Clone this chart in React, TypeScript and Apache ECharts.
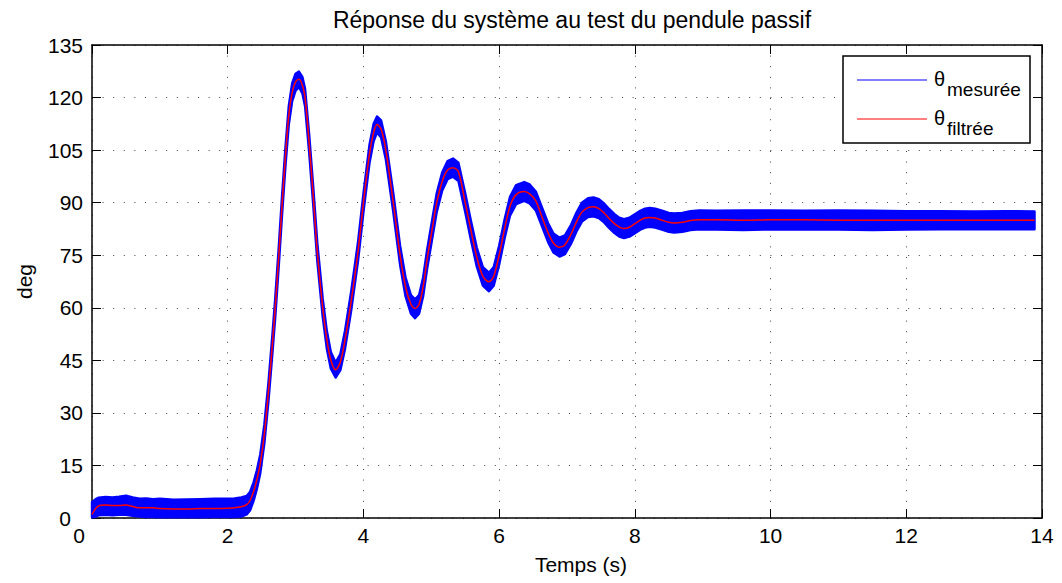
import React, { useEffect, useRef } from "react";
import * as echarts from "echarts";

// Temps (s)
const temps = [
  0, 0.05, 0.1, 0.2, 0.3, 0.4, 0.5, 0.6, 0.7, 0.8,
  0.9, 1.0, 1.2, 1.4, 1.6, 1.8, 2.0, 2.1, 2.2, 2.28,
  2.33, 2.38, 2.43, 2.48, 2.54, 2.6, 2.66, 2.7, 2.75, 2.8,
  2.85, 2.9, 2.95, 3.0, 3.05, 3.1, 3.14, 3.2, 3.26, 3.32,
  3.4, 3.46, 3.52, 3.59, 3.66, 3.73, 3.82, 3.92, 4.0, 4.09,
  4.15, 4.2, 4.26, 4.33, 4.44, 4.54, 4.62, 4.7, 4.76, 4.82,
  4.88, 4.94, 5.01, 5.08, 5.16, 5.24, 5.32, 5.4, 5.5, 5.58,
  5.67, 5.76, 5.85, 5.92, 6.0, 6.08, 6.16, 6.25, 6.37, 6.45,
  6.54, 6.63, 6.72, 6.8, 6.89, 6.97, 7.06, 7.14, 7.22, 7.31,
  7.39, 7.47, 7.55, 7.62, 7.7, 7.77, 7.84, 7.92, 8.0, 8.08,
  8.15, 8.22, 8.3, 8.4, 8.5, 8.58, 8.7, 8.82, 8.95, 9.2,
  9.6, 10.0, 10.5, 11.0, 11.5, 12.0, 12.5, 13.0, 13.5, 13.89,
];

// θ filtrée (deg)
const filtree = [
  1.0, 2.6, 3.5, 3.7, 3.6, 3.6, 3.7, 3.3, 2.9, 2.9,
  2.9, 2.7, 2.6, 2.6, 2.7, 2.7, 2.8, 2.9, 3.2, 3.8,
  5.0, 7.5, 11, 15.5, 24, 36, 50, 60, 74, 89,
  103, 115, 121.5, 124.5, 125.2, 123.5, 120, 107, 92, 76,
  60, 51, 45, 42.3, 44.5, 51, 62, 76, 90, 104,
  110, 112.3, 111, 105, 90, 75, 66, 61, 59.8, 61,
  66, 74, 82, 90, 96, 99.3, 100, 98.8, 90, 82.5,
  74.5, 69, 67.4, 69, 75, 82.5, 89, 92.3, 93.2, 92.5,
  90.5, 86, 81.5, 78.5, 77.3, 78, 81, 84.5, 87.3, 88.6,
  88.8, 88.3, 87, 85.5, 84, 83, 82.6, 83, 84, 85,
  85.6, 85.8, 85.6, 85, 84.4, 84.2, 84.4, 84.9, 85.1, 85.1,
  85.0, 85.1, 85.1, 85.0, 85.0, 85.0, 85.0, 85.0, 85.0, 85.0,
];

// θ mesurée : enveloppe haute (deg)
const mesureeHaut = [
  4.5, 5.3, 5.8, 6.0, 5.9, 6.1, 6.4, 5.9, 5.5, 5.6,
  5.4, 5.5, 5.2, 5.3, 5.4, 5.5, 5.5, 5.6, 5.9, 6.3,
  7.5, 10.1, 13.6, 18.2, 26.7, 38.6, 52.6, 62.7, 76.6, 91.7,
  105.6, 117.6, 124.1, 126.8, 127.4, 125.9, 122.5, 109.6, 94.6, 78.6,
  62.6, 53.5, 47.4, 44.4, 46.8, 53.6, 64.7, 78.7, 92.6, 106.6,
  112.5, 114.6, 113.5, 107.6, 92.7, 77.7, 68.7, 63.6, 62.4, 63.6,
  68.7, 76.7, 84.7, 92.7, 98.6, 101.9, 102.6, 101.4, 92.7, 85.2,
  77.2, 71.6, 70.0, 71.6, 77.7, 85.2, 91.7, 95.0, 95.9, 95.2,
  93.2, 88.7, 84.2, 81.2, 80.0, 80.7, 83.7, 87.2, 90.0, 91.3,
  91.5, 91.0, 89.7, 88.2, 86.7, 85.7, 85.3, 85.7, 86.7, 87.7,
  88.3, 88.5, 88.3, 87.7, 87.1, 86.9, 87.1, 87.6, 87.8, 87.7,
  87.8, 87.8, 87.7, 87.8, 87.7, 87.6, 87.6, 87.5, 87.6, 87.5,
];

// θ mesurée : enveloppe basse (deg)
const mesureeBas = [
  0.2, 0.3, 0.8, 0.9, 0.8, 0.9, 0.9, 0.6, 0.4, 0.3,
  0.3, 0.2, 0.2, 0.2, 0.2, 0.3, 0.3, 0.3, 0.4, 1.0,
  2.2, 4.8, 8.3, 12.8, 21.3, 33.3, 47.3, 57.2, 71.3, 86.3,
  100.2, 112.3, 119.0, 122.0, 123.0, 121.2, 117.5, 104.4, 89.4, 73.4,
  57.4, 48.4, 42.6, 40.1, 42.2, 48.4, 59.3, 73.3, 87.3, 101.4,
  107.5, 110.0, 108.6, 102.4, 87.3, 72.3, 63.3, 58.3, 57.0, 58.3,
  63.3, 71.3, 79.3, 87.3, 93.4, 96.7, 97.4, 96.2, 87.3, 79.8,
  71.8, 66.3, 64.7, 66.3, 72.3, 79.8, 86.3, 89.6, 90.5, 89.8,
  87.8, 83.3, 78.8, 75.8, 74.6, 75.3, 78.3, 81.8, 84.6, 85.9,
  86.1, 85.6, 84.3, 82.8, 81.3, 80.3, 79.9, 80.3, 81.3, 82.3,
  82.9, 83.1, 82.9, 82.3, 81.7, 81.5, 81.7, 82.2, 82.4, 82.3,
  82.2, 82.4, 82.3, 82.3, 82.2, 82.3, 82.4, 82.4, 82.4, 82.4,
];

const titre = "Réponse du système au test du pendule passif";
const legendeSymbole = "θ";
const legendeIndices = ["mesurée", "filtrée"];
const legendeCouleurs = ["#0000ff", "#ff0000"];

const FONT = "'Liberation Sans', Arial, Helvetica, sans-serif";

export default function App() {
  const ref = useRef<HTMLDivElement>(null);

  useEffect(() => {
    if (!ref.current) return;
    const chart = echarts.init(ref.current, null, { renderer: "svg" });

    const axisLineStyle = { color: "#000", width: 1.5 };
    const tickStyle = { inside: true, length: 9, lineStyle: { color: "#000", width: 1 } };
    const gridStyle = { show: true, lineStyle: { color: "#444", width: 1, type: [1, 9.6] } };
    const labelStyle = { color: "#000", fontSize: 21, fontFamily: FONT };

    const bandData = temps.map((t, i) => [t, mesureeBas[i], mesureeHaut[i]]);
    const redData = temps.map((t, i) => [t, filtree[i]]);

    const legendGraphics: any[] = [
      {
        type: "rect",
        shape: { x: 843, y: 56, width: 187, height: 87 },
        style: { fill: "#fff", stroke: "#000", lineWidth: 1.5 },
        z: 100,
      },
    ];
    legendeIndices.forEach((sub, i) => {
      const yc = i === 0 ? 80 : 119;
      legendGraphics.push(
        {
          type: "line",
          shape: { x1: 857, y1: yc, x2: 927, y2: yc },
          style: { stroke: legendeCouleurs[i], lineWidth: 1.2 },
          z: 101,
        },
        {
          type: "text",
          x: 934,
          y: yc - 1,
          style: {
            text: legendeSymbole,
            fontSize: 20,
            fontFamily: FONT,
            fill: "#000",
            verticalAlign: "middle",
            align: "left",
          },
          z: 101,
        },
        {
          type: "text",
          x: 947,
          y: yc + 19,
          style: {
            text: sub,
            fontSize: 19,
            fontFamily: FONT,
            fill: "#000",
            verticalAlign: "bottom",
            align: "left",
          },
          z: 101,
        }
      );
    });

    chart.setOption({
      animation: false,
      backgroundColor: "#fff",
      title: {
        text: titre,
        left: 567,
        top: 3,
        textAlign: "center",
        textStyle: { fontSize: 23, fontWeight: "normal", color: "#000", fontFamily: FONT },
      },
      grid: { left: 92, right: 20, top: 45, bottom: 65 },
      xAxis: [
        {
          type: "value",
          min: 0,
          max: 14,
          interval: 2,
          position: "bottom",
          name: "Temps (s)",
          nameLocation: "middle",
          nameGap: 36,
          nameTextStyle: { color: "#000", fontSize: 21, fontFamily: FONT, padding: [0, 0, 0, 28] },
          axisLine: { onZero: false, lineStyle: axisLineStyle },
          axisTick: tickStyle,
          splitLine: gridStyle,
          axisLabel: {
            ...labelStyle,
            margin: 7,
            formatter: (v: number) => (v === 0 ? "{z|0}" : String(v)),
            rich: { z: { ...labelStyle, padding: [0, 26, 0, 0] } },
          },
        },
        {
          type: "value",
          min: 0,
          max: 14,
          interval: 2,
          position: "top",
          axisLine: { onZero: false, lineStyle: axisLineStyle },
          axisTick: tickStyle,
          splitLine: { show: false },
          axisLabel: { show: false },
        },
      ],
      yAxis: [
        {
          type: "value",
          min: 0,
          max: 135,
          interval: 15,
          position: "left",
          name: "deg",
          nameLocation: "middle",
          nameGap: 57,
          nameTextStyle: { color: "#000", fontSize: 21, fontFamily: FONT },
          axisLine: { onZero: false, lineStyle: axisLineStyle },
          axisTick: tickStyle,
          splitLine: gridStyle,
          axisLabel: {
            ...labelStyle,
            margin: 9,
            formatter: (v: number) => (v === 0 ? "{z|0}" : String(v)),
            rich: { z: { ...labelStyle, padding: [0, 12, 0, 0] } },
          },
        },
        {
          type: "value",
          min: 0,
          max: 135,
          interval: 15,
          position: "right",
          axisLine: { onZero: false, lineStyle: axisLineStyle },
          axisTick: tickStyle,
          splitLine: { show: false },
          axisLabel: { show: false },
        },
      ],
      series: [
        {
          type: "custom",
          name: "θ mesurée",
          data: bandData,
          xAxisIndex: 0,
          yAxisIndex: 0,
          encode: { x: 0, y: [1, 2] },
          z: 2,
          renderItem: (params: any, api: any) => {
            if (params.dataIndex !== 0) return null;
            const haut = temps.map((t, i) => api.coord([t, mesureeHaut[i]]));
            const bas = temps.map((t, i) => api.coord([t, mesureeBas[i]])).reverse();
            return {
              type: "polygon",
              shape: { points: haut.concat(bas), smooth: 0 },
              style: { fill: "#0000ff", stroke: "#0000ff", lineWidth: 2.4, lineJoin: "round" },
            };
          },
        },
        {
          type: "line",
          name: "θ filtrée",
          data: redData,
          xAxisIndex: 0,
          yAxisIndex: 0,
          showSymbol: false,
          symbol: "none",
          smooth: 0.3,
          lineStyle: { color: "#ff0000", width: 1.5 },
          z: 3,
        },
      ],
      graphic: legendGraphics,
    });

    return () => chart.dispose();
  }, []);

  return (
    <div
      ref={ref}
      style={{ position: "fixed", left: 0, top: 0, width: 1062, height: 583 }}
    />
  );
}
